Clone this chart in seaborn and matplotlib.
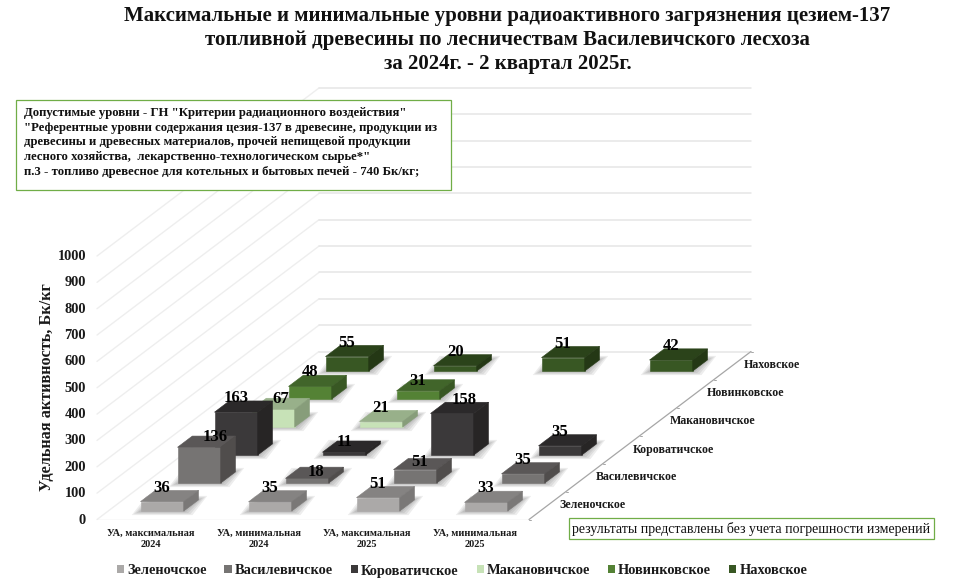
import matplotlib
matplotlib.use("Agg")
import matplotlib.pyplot as plt
from matplotlib.patches import Patch, Polygon
from matplotlib.transforms import ScaledTranslation
import numpy as np
import pandas as pd
import seaborn as sns

# Data
categories = ["УА, максимальная\n2024", "УА, минимальная\n2024", "УА, максимальная\n2025", "УА, минимальная\n2025"]
series_names = ["Зеленочское", "Василевичское", "Короватичское", "Макановичское", "Новинковское", "Наховское"]
zelenoch = [36, 35, 51, 33]
vasil = [136, 18, 51, 35]
korov = [163, 11, 158, 35]
makan = [67, 21, np.nan, np.nan]
novink = [48, 31, np.nan, np.nan]
nahov = [55, 20, 51, 42]
y_ticks = list(range(0, 1001, 100))

df = pd.DataFrame({n: v for n, v in zip(series_names, [zelenoch, vasil, korov, makan, novink, nahov])}, index=categories)
long_df = df.reset_index(names="cat").melt(id_vars="cat", var_name="series", value_name="value").dropna()

# front, top and side colours per series
front = ["#aba9a8", "#767473", "#3b393a", "#c7e2b7", "#548235", "#385723"]
top = ["#858382", "#5a5757", "#2b292a", "#98b08a", "#41652a", "#2b431a"]
side = ["#7a7877", "#504d4c", "#272525", "#879d7a", "#385723", "#243815"]

# hand-moved data labels (dx, dy in pixels)
label_moves = {(1, 0): (16, 10), (3, 0): (8, 10), (2, 2): (12, 13), (1, 2): (5, 8),
               (4, 1): (0, 9.5), (1, 1): (9, 6), (2, 1): (0, 10)}

sns.set_theme(style="white")
plt.rcParams["font.family"] = ["Liberation Serif", "DejaVu Serif"]

W, H = 964, 587
PX_CAT = 108.0        # pixels per category
PX_VAL = 0.2635       # pixels per Bq/kg
DX = 37.0 / PX_CAT    # oblique shift per series row, in category units
DY = 28.0 / PX_VAL    # same, in value units
BAR = 0.4

fig = plt.figure(figsize=(W / 100, H / 100), dpi=100)
ax_w = (4 + 6 * DX) * PX_CAT
ax_h = (1000 + 6 * DY) * PX_VAL
ax = fig.add_axes([97 / W, (H - 519.5) / H, ax_w / W, ax_h / H])
ax.set_xlim(0, 4 + 6 * DX)
ax.set_ylim(0, 1000 + 6 * DY)
ax.grid(False)
ax.patch.set_alpha(0)
sns.despine(ax=ax, left=True, bottom=True)


def proj(cat, depth, val):
    return cat + depth * DX, val + depth * DY


# walls
for v in y_ticks:
    ax.plot(*zip(proj(0, 0, v), proj(0, 6, v)), color="#eeeeee", lw=1, zorder=1, clip_on=False)
    ax.plot(*zip(proj(0, 6, v), proj(4, 6, v)), color="#e6e6e6", lw=1.1, zorder=1, clip_on=False)
ax.plot(*zip(proj(0, 0, 0), proj(4, 0, 0)), color="#e2e2e2", lw=1, zorder=1)
ax.plot(*zip(proj(4, 0, 0), proj(4, 6, 0)), color="#a6a6a6", lw=0.9, zorder=1, clip_on=False)
for j in range(7):
    ax.plot(*zip(proj(4, j, 0), (proj(4, j, 0)[0] + 2 / PX_CAT, proj(4, j, 0)[1])), color="#a6a6a6", lw=0.7, zorder=1, clip_on=False)

# bars, back row first
zo = 2
for j in range(5, -1, -1):
    name = series_names[j]
    rows = long_df[long_df["series"] == name]
    for _, row in rows.iterrows():
        i = categories.index(row["cat"])
        v = row["value"]
        c0 = i + (1 - BAR) / 2
        c1 = c0 + BAR
        d0 = j + (1 - BAR) / 2
        d1 = d0 + BAR
        # soft floor shadow
        for k in range(1, 5):
            ex, ey = k * 2.2 / PX_CAT, k * 1.0 / PX_VAL
            pts = [proj(c0 - ex, d0, -ey), proj(c1 + ex, d0, -ey), proj(c1 + ex, d1, ey), proj(c0 - ex, d1, ey)]
            ax.add_patch(Polygon(pts, fc="black", ec="none", alpha=0.07, zorder=zo, clip_on=False))
        zo += 1
        faces = [
            ([proj(c0, d0, 0), proj(c1, d0, 0), proj(c1, d0, v), proj(c0, d0, v)], front[j]),
            ([proj(c0, d0, v), proj(c1, d0, v), proj(c1, d1, v), proj(c0, d1, v)], top[j]),
            ([proj(c1, d0, 0), proj(c1, d1, 0), proj(c1, d1, v), proj(c1, d0, v)], side[j]),
        ]
        for pts, col in faces:
            ax.add_patch(Polygon(pts, fc=col, ec=col, lw=0.4, zorder=zo, clip_on=False))
        zo += 1

# data labels on top of everything
for _, row in long_df.iterrows():
    j = series_names.index(row["series"])
    i = categories.index(row["cat"])
    mx, my = label_moves.get((j, i), (0, 14))
    cx = i + 0.5
    ax.annotate(f"{row['value']:.0f}", proj(cx, j + (1 - BAR) / 2, row["value"]), xytext=(mx, my),
                textcoords="offset pixels", ha="center", va="center", fontsize=12, fontweight="bold",
                color="black", zorder=500, annotation_clip=False)

# depth axis labels
for j, name in enumerate(series_names):
    ax.annotate(name, proj(4, j + 0.5, 0), xytext=(11.5, 0), textcoords="offset pixels", ha="left", va="center",
                fontsize=8.6, fontweight="bold", color="#1a1a1a", annotation_clip=False)

ax.set_yticks(y_ticks)
ax.set_yticklabels(y_ticks, fontsize=10.4, fontweight="bold", color="#1a1a1a")
ax.set_xticks(np.arange(4) + 0.5)
ax.set_xticklabels(categories, fontsize=7.5, fontweight="bold", color="#1a1a1a", linespacing=1.3)
ax.tick_params(axis="y", length=0, pad=8)
ax.tick_params(axis="x", length=0, pad=7)
# tick numbers sit a pixel higher in the original
nudge = ScaledTranslation(0, 1 / 100, fig.dpi_scale_trans)
for lab in ax.get_yticklabels():
    lab.set_transform(lab.get_transform() + nudge)

fig.text(47 / W, 1 - 387 / H, "Удельная активность, Бк/кг", rotation=90, ha="center", va="center",
         fontsize=11.7, fontweight="bold", color="#1a1a1a")

# title
title_lines = ["Максимальные и минимальные уровни радиоактивного загрязнения цезием-137",
               "топливной древесины по лесничествам Василевичского лесхоза",
               "за 2024г. - 2 квартал 2025г."]
for y, line in zip([16, 40, 64], title_lines):
    fig.text(507.5 / W, 1 - y / H, line, ha="center", va="center", fontsize=15, fontweight="bold", color="#111111")

# note boxes
fig.add_artist(plt.Rectangle((16 / W, 1 - 189.5 / H), 435 / W, 90 / H, fc="white", ec="#70ad47", lw=0.9,
                             transform=fig.transFigure, zorder=600))
note_lines = ["Допустимые уровни - ГН \"Критерии радиационного воздействия\"",
              "\"Референтные уровни содержания цезия-137 в древесине, продукции из",
              "древесины и древесных материалов, прочей непищевой продукции",
              "лесного хозяйства,  лекарственно-технологическом сырье*\"",
              "п.3 - топливо древесное для котельных и бытовых печей - 740 Бк/кг;"]
for y, line in zip([113, 128, 142, 157, 172], note_lines):
    fig.text(24 / W, 1 - y / H, line, ha="left", va="center", fontsize=9.2, fontweight="bold", color="#111111", zorder=601)

fig.add_artist(plt.Rectangle((569 / W, 1 - 539 / H), 365 / W, 21 / H, fc="white", ec="#70ad47", lw=0.9,
                             transform=fig.transFigure, zorder=600))
fig.text(572 / W, 1 - 528.5 / H, "результаты представлены без учета погрешности измерений", ha="left", va="center",
         fontsize=10, color="#111111", zorder=601)

handles = [Patch(fc=c, ec="none", label=n) for c, n in zip(front, series_names)]
fig.legend(handles=handles, loc="center", bbox_to_anchor=(462 / W, 1 - 571 / H), ncol=6, frameon=False,
           prop={"size": 10.4, "weight": "bold"}, handlelength=0.5, handleheight=0.5, handletextpad=0.2,
           columnspacing=1.25, labelcolor="#1a1a1a")

fig.savefig("out.png", dpi=100)
